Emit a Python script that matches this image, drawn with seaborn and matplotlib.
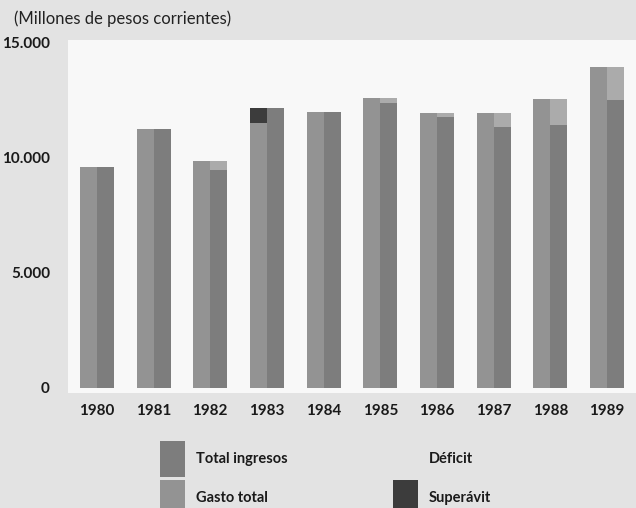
import numpy as np
import pandas as pd
import seaborn as sns
import matplotlib.pyplot as plt
from matplotlib.patches import Patch

years = ["1980", "1981", "1982", "1983", "1984", "1985", "1986", "1987", "1988", "1989"]
gasto_total = [9600, 11250, 9880, 11510, 12000, 12620, 11940, 11940, 12560, 13940]
total_ingresos = [9600, 11250, 9480, 12190, 12000, 12380, 11800, 11330, 11430, 12520]

y_ticks = [0, 5000, 10000, 15000]
y_labels = ["0", "5.000", "10.000", "15.000"]

c_gasto = "#939393"
c_ingresos = "#7d7d7d"
c_deficit = "#ababab"
c_superavit = "#3c3c3c"
bg = "#e3e3e3"

gasto = np.array(gasto_total)
ingresos = np.array(total_ingresos)
top = np.maximum(gasto, ingresos)  # gasto + superávit / ingresos + déficit

base = pd.DataFrame({
    "year": years * 2,
    "serie": ["Gasto total"] * 10 + ["Total ingresos"] * 10,
    "valor": np.concatenate([gasto, ingresos]),
})
tops = base.copy()
tops["valor"] = np.concatenate([top, top])

sns.set_style("white")
plt.rcParams["font.family"] = ["Lato", "DejaVu Sans"]

fig = plt.figure(figsize=(6.36, 5.08), dpi=100, facecolor=bg)
ax = fig.add_axes([68 / 636, 1 - 393 / 508, 1 - 68 / 636, (393 - 40) / 508])
ax.set_facecolor("#f8f8f8")

# top layer: superávit on gasto bar, déficit on ingresos bar
sns.barplot(data=tops, x="year", y="valor", hue="serie", order=years,
            hue_order=["Gasto total", "Total ingresos"],
            palette=[c_superavit, c_deficit], width=0.6, gap=0,
            saturation=1, linewidth=0, legend=False, ax=ax)
sns.barplot(data=base, x="year", y="valor", hue="serie", order=years,
            hue_order=["Gasto total", "Total ingresos"],
            palette=[c_gasto, c_ingresos], width=0.6, gap=0,
            saturation=1, linewidth=0, legend=False, ax=ax)

ax.set_xlim(-0.51, 9.51)
ax.set_ylim(-220, 15130)
ax.set_yticks(y_ticks)
ax.set_yticklabels(y_labels, fontsize=11, fontweight="bold", color="#1a1a1a")
for lab in ax.get_xticklabels():
    lab.set_fontsize(11)
    lab.set_fontweight("bold")
    lab.set_color("#1a1a1a")
ax.tick_params(axis="both", length=0)
ax.tick_params(axis="y", pad=13)
ax.tick_params(axis="x", pad=8)
ax.set_xlabel("")
ax.set_ylabel("")
sns.despine(ax=ax, left=True, bottom=True)

fig.text(14 / 636, 1 - 19 / 508, "(Millones de pesos corrientes)", fontsize=12,
         color="#222222", va="center", ha="left")

handles = [
    Patch(facecolor=c_ingresos, linewidth=0, label="Total ingresos"),
    Patch(facecolor=c_gasto, linewidth=0, label="Gasto total"),
    Patch(facecolor="none", linewidth=0, label="Déficit"),
    Patch(facecolor=c_superavit, linewidth=0, label="Superávit"),
]
leg = fig.legend(handles=handles, ncol=2, loc="upper left",
                 bbox_to_anchor=(160 / 636, 1 - 441 / 508), frameon=False,
                 prop={"size": 10.5, "weight": "bold"},
                 handlelength=1.72, handleheight=3.4, handletextpad=0.72,
                 labelspacing=0.2, columnspacing=7.25, borderpad=0,
                 borderaxespad=0)
for t in leg.get_texts():
    t.set_color("#1a1a1a")

fig.savefig("out.png", dpi=100, facecolor=bg)
